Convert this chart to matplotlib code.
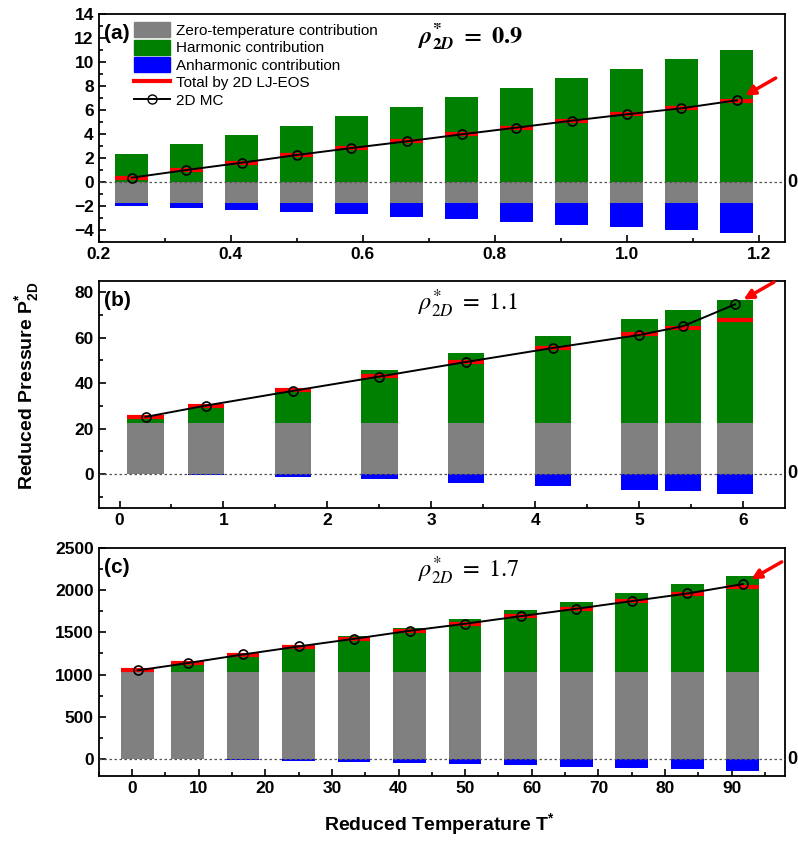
import numpy as np
import matplotlib.pyplot as plt
from matplotlib.patches import Patch
from matplotlib.lines import Line2D
from matplotlib.ticker import MultipleLocator

plt.rcParams['font.family'] = ['Liberation Sans', 'DejaVu Sans']
plt.rcParams['mathtext.fontset'] = 'custom'
plt.rcParams['mathtext.rm'] = 'Liberation Sans:bold'
plt.rcParams['mathtext.bf'] = 'Liberation Sans:bold'

# (a) rho = 0.9
T_a = [0.25, 0.333, 0.417, 0.5, 0.583, 0.667, 0.75, 0.833, 0.917, 1.0, 1.083, 1.167]
zero_a = [-1.75] * 12
harm_a = [2.36, 3.14, 3.94, 4.69, 5.47, 6.28, 7.06, 7.86, 8.64, 9.44, 10.22, 11.0]
anh_a = [-0.25, -0.42, -0.58, -0.78, -0.94, -1.14, -1.36, -1.58, -1.81, -2.03, -2.28, -2.53]
eos_a = [0.36, 1.0, 1.61, 2.25, 2.83, 3.39, 3.97, 4.53, 5.11, 5.67, 6.19, 6.78]
mc_a = [0.36, 1.0, 1.61, 2.25, 2.83, 3.39, 3.97, 4.53, 5.11, 5.64, 6.14, 6.81]

# (b) rho = 1.1
T_b = [0.25, 0.83, 1.67, 2.5, 3.33, 4.17, 5.0, 5.42, 5.92]
zero_b = [22.6] * 9
harm_b = [2.4, 7.9, 15.2, 23.1, 30.5, 38.1, 45.6, 49.4, 53.9]
anh_b = [0.0, -0.4, -1.3, -2.3, -3.8, -5.4, -6.9, -7.7, -8.9]
eos_b = [25.1, 29.8, 36.8, 43.2, 49.5, 55.5, 61.5, 64.4, 67.7]
mc_b = [25.1, 30.1, 36.6, 42.9, 49.3, 55.5, 61.2, 65.1, 74.7]

# (c) rho = 1.7
T_c = [0.83, 8.33, 16.67, 25, 33.33, 41.67, 50, 58.33, 66.67, 75, 83.33, 91.67]
zero_c = [1035] * 12
harm_c = [15, 123, 222, 312, 415, 517, 620, 722, 825, 931, 1030, 1128]
anh_c = [0, -4, -12, -20, -32, -43, -59, -71, -91, -106, -122, -138]
eos_c = [1048, 1135, 1233, 1328, 1422, 1513, 1600, 1690, 1777, 1864, 1954, 2033]
mc_c = [1048, 1135, 1237, 1332, 1422, 1517, 1600, 1690, 1777, 1868, 1958, 2069]

panels = [
    dict(T=T_a, zero=zero_a, harm=harm_a, anh=anh_a, eos=eos_a, mc=mc_a, w=0.05,
         xlim=(0.2, 1.24), ylim=(-5, 14), xmaj=0.2, xmin=0.1, ymaj=2, ymin=1,
         tag='(a)', rho=r'$\boldsymbol{\rho}^{\boldsymbol{*}}_{\boldsymbol{2D}}\mathbf{\ =\ 0.9}$',
         pos=[0.1237, 0.7122, 0.86, 0.2712]),
    dict(T=T_b, zero=zero_b, harm=harm_b, anh=anh_b, eos=eos_b, mc=mc_b, w=0.35,
         xlim=(-0.2, 6.4), ylim=(-15, 85), xmaj=1, xmin=0.5, ymaj=20, ymin=10,
         tag='(b)', rho=r'$\rho^{*}_{2D}\ =\ 1.1$',
         pos=[0.1237, 0.3960, 0.86, 0.2699]),
    dict(T=T_c, zero=zero_c, harm=harm_c, anh=anh_c, eos=eos_c, mc=mc_c, w=4.9,
         xlim=(-5, 98), ylim=(-200, 2500), xmaj=10, xmin=5, ymaj=500, ymin=250,
         tag='(c)', rho=r'$\rho^{*}_{2D}\ =\ 1.7$',
         pos=[0.1237, 0.0773, 0.86, 0.2715]),
]

fig = plt.figure(figsize=(7.98, 8.41), dpi=100)

for i, p in enumerate(panels):
    ax = fig.add_axes(p['pos'])
    T = np.array(p['T'])
    zero = np.array(p['zero'], dtype=float)
    harm = np.array(p['harm'], dtype=float)
    anh = np.array(p['anh'], dtype=float)
    w = p['w']

    ax.bar(T, zero, w, color='#808080', linewidth=0, zorder=2)
    ax.bar(T, harm, w, bottom=np.maximum(zero, 0), color='#008000', linewidth=0, zorder=2)
    ax.bar(T, anh, w, bottom=np.minimum(zero, 0), color='#0000ff', linewidth=0, zorder=2)
    ax.axhline(0, color='#555555', ls=(0, (2, 2)), lw=0.9, zorder=3)

    ax.hlines(p['eos'], T - w / 2, T + w / 2, color='red', lw=3, zorder=4)
    ax.plot(T, p['mc'], '-o', color='black', lw=1.4, ms=6.5, mfc='none', mew=1.2, zorder=5)

    # arrow at the last MC point
    ax.annotate('', xy=(T[-1], p['mc'][-1]), xytext=(28, 16), textcoords='offset points',
                arrowprops=dict(arrowstyle='-|>', color='red', lw=2.5, mutation_scale=14,
                                shrinkA=0, shrinkB=7), zorder=6)

    ax.set_xlim(p['xlim'])
    ax.set_ylim(p['ylim'])
    ax.xaxis.set_major_locator(MultipleLocator(p['xmaj']))
    ax.xaxis.set_minor_locator(MultipleLocator(p['xmin']))
    ax.yaxis.set_major_locator(MultipleLocator(p['ymaj']))
    ax.yaxis.set_minor_locator(MultipleLocator(p['ymin']))
    ax.tick_params(which='both', direction='in', width=1.2, labelsize=12.5)
    ax.tick_params(which='major', length=5)
    ax.tick_params(which='minor', length=3)
    for lab in ax.get_xticklabels() + ax.get_yticklabels():
        lab.set_fontweight('bold')
    for s in ax.spines.values():
        s.set_linewidth(1.3)

    ax.text(0.008, 0.955, p['tag'], transform=ax.transAxes, fontsize=15,
            fontweight='bold', va='top', ha='left')
    ax.text(0.465, 0.9, p['rho'], transform=ax.transAxes, fontsize=17.5,
            va='center', ha='left', math_fontfamily='stix')
    ax.text(1.004, 0, '0', transform=ax.get_yaxis_transform(), fontsize=13,
            fontweight='bold', va='center', ha='left', clip_on=False)

    if i == 0:
        handles = [Patch(color='#808080'), Patch(color='#008000'), Patch(color='#0000ff'),
                   Line2D([], [], color='red', lw=3),
                   Line2D([], [], color='black', lw=1.4, marker='o', ms=6.5, mfc='none')]
        labels = ['Zero-temperature contribution', 'Harmonic contribution',
                  'Anharmonic contribution', 'Total by 2D LJ-EOS', '2D MC']
        ax.legend(handles, labels, loc='upper left', bbox_to_anchor=(0.052, 0.965),
                  frameon=False, fontsize=11, handlelength=2.3, handleheight=1.15,
                  labelspacing=0.12, handletextpad=0.4, borderpad=0, borderaxespad=0)

fig.text(0.035, 0.542, r'Reduced Pressure P$^{\mathrm{*}}_{\mathrm{2D}}$', rotation=90,
         fontsize=14, fontweight='bold', va='center', ha='center')
fig.text(0.551, 0.019, r'Reduced Temperature T$^{\mathrm{*}}$', fontsize=14,
         fontweight='bold', va='center', ha='center')

fig.savefig('out.png', dpi=100)
